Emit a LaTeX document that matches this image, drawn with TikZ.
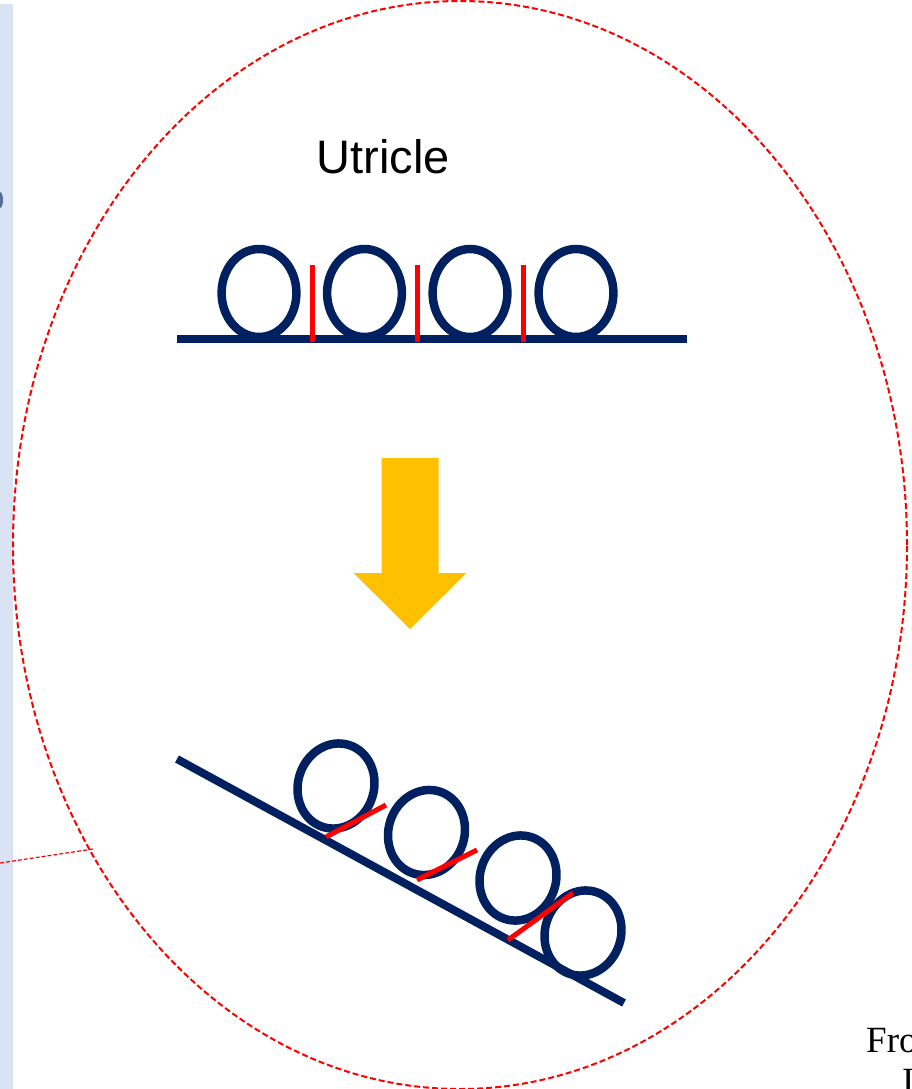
\documentclass[tikz,border=0pt]{standalone}
\usepackage{fontspec}
\setmainfont{Liberation Sans}
\newfontfamily\timesf{Liberation Serif}
\definecolor{navy}{HTML}{002060}
\definecolor{stripblue}{HTML}{DAE3F3}
\definecolor{arrowgold}{HTML}{FFC000}
\definecolor{zoomred}{HTML}{FF0000}
\tikzset{
  hairloop/.style={draw=navy, line width=8.5pt},
  baseline bar/.style={draw=navy, line width=8pt},
  link/.style={draw=zoomred, line width=5pt},
  zoomring/.style={draw=zoomred, line width=2pt, dash pattern=on 6pt off 3pt},
  zoomlead/.style={draw=zoomred, line width=1.2pt, dash pattern=on 4pt off 2pt},
}
\begin{document}
\begin{tikzpicture}[x=1pt,y=-1pt]
\useasboundingbox (0,0) rectangle (912,1089);
\clip (0,0) rectangle (912,1089);
% left strip of the slide
\fill[stripblue] (0,4) rectangle (13,1089);
\fill[navy, opacity=0.6] (0,200) ellipse [x radius=3pt, y radius=8pt];
% zoom ring and its lead line
\draw[zoomring] (460,545) ellipse [x radius=447pt, y radius=544pt];
\coordinate (leadL) at (0,863);
\coordinate (leadR) at (93,849);
\draw[zoomlead] (leadL) -- (leadR);
% title
\node[anchor=base, inner sep=0pt, font=\fontsize{47}{56}\selectfont] (title) at (383,173) {Utricle};
% upright hair bundles
\coordinate (baseA) at (177,339);
\coordinate (baseB) at (687,339);
\draw[hairloop] (259,293) ellipse [x radius=37.4pt, y radius=44pt];
\draw[hairloop] (364.5,293) ellipse [x radius=37.4pt, y radius=44pt];
\draw[hairloop] (470,293) ellipse [x radius=37.4pt, y radius=44pt];
\draw[hairloop] (576,293) ellipse [x radius=37.4pt, y radius=44pt];
\draw[baseline bar] (baseA) -- (baseB);
\draw[link] (312,265) -- (312,341.5);
\draw[link] (417.5,265) -- (417.5,341.5);
\draw[link] (523,265) -- (523,341.5);
% arrow
\fill[arrowgold] (381.5,458) -- (438.5,458) -- (438.5,573) -- (466.4,573) -- (410,629) -- (353.6,573) -- (381.5,573) -- cycle;
% tilted hair bundles
\coordinate (tiltA) at (177,759);
\coordinate (tiltB) at (624,1003);
\draw[baseline bar] (tiltA) -- (tiltB);
\draw[hairloop] (336,786) ellipse [x radius=38pt, y radius=43pt, rotate=-18];
\draw[hairloop] (426.5,832.5) ellipse [x radius=38pt, y radius=43pt, rotate=-18];
\draw[hairloop] (518,878) ellipse [x radius=38pt, y radius=43pt, rotate=-18];
\draw[hairloop] (583,933) ellipse [x radius=38pt, y radius=43pt, rotate=-18];
\draw[link] (326,837) -- (386,805);
\draw[link] (417,880) -- (477,850);
\draw[link] (508,940) -- (573,893);
% clipped caption
\node[anchor=base west, inner sep=0pt, font=\timesf\fontsize{37}{44}\selectfont] (capA) at (866,1052) {Fro};
\node[anchor=base west, inner sep=0pt, font=\timesf\fontsize{37}{44}\selectfont] (capB) at (902,1093) {I};
\end{tikzpicture}
\end{document}
